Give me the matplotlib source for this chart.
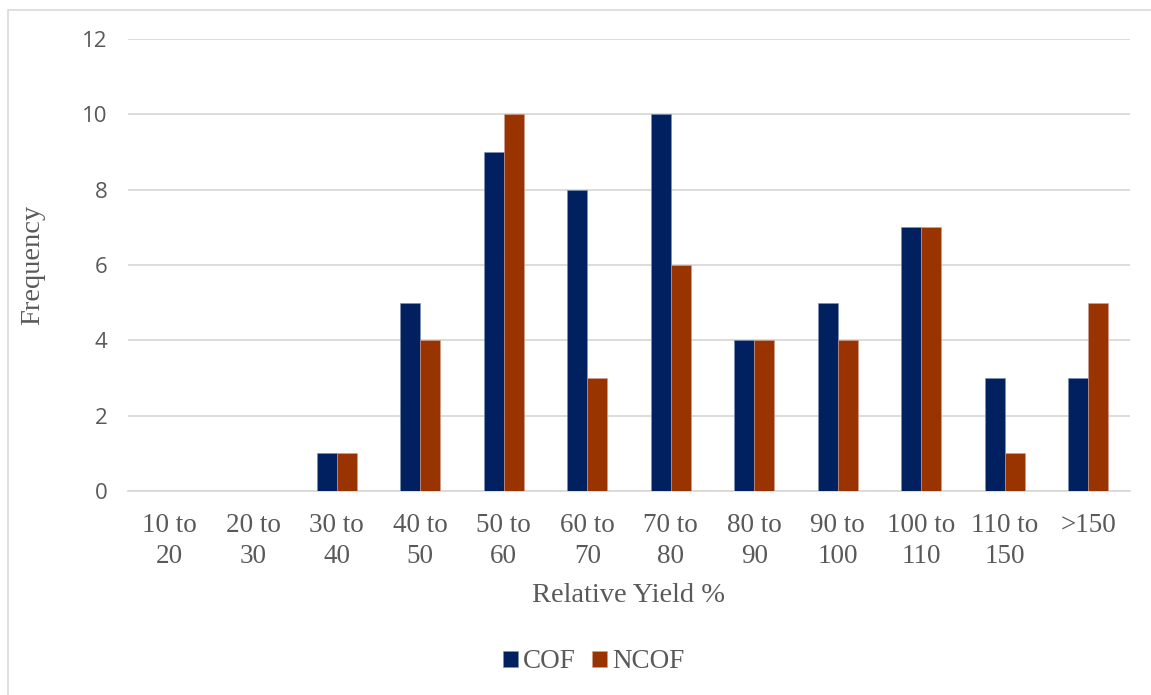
import numpy as np
import matplotlib
matplotlib.use("Agg")
import matplotlib.pyplot as plt
from matplotlib.patches import Rectangle

# data
bins = ["10 to\n20", "20 to\n30", "30 to\n40", "40 to\n50", "50 to\n60", "60 to\n70",
        "70 to\n80", "80 to\n90", "90 to\n100", "100 to\n110", "110 to\n150", ">150"]
cof = [0, 0, 1, 5, 9, 8, 10, 4, 5, 7, 3, 3]
ncof = [0, 0, 1, 4, 10, 3, 6, 4, 4, 7, 1, 5]

serif = ["Liberation Serif", "DejaVu Serif"]
sans = ["Open Sans", "Liberation Sans", "DejaVu Sans"]
grey = "#595959"

fig = plt.figure(figsize=(11.51, 6.95), dpi=100)
# light outer frame like the Excel chart area
fig.patches.append(Rectangle((8 / 1151, -0.01), 1.0, 1 - 10 / 695 + 0.01,
                             transform=fig.transFigure, fill=False,
                             edgecolor="#d9d9d9", linewidth=1.2))

ax = fig.add_axes([128 / 1151, 1 - 491 / 695, (1130 - 128) / 1151, (491 - 39) / 695])

x = np.arange(len(bins))
w = 0.24
ax.bar(x - w / 2, cof, w, color="#002060", edgecolor="#8090b0", linewidth=0.4, label="COF", zorder=3)
ax.bar(x + w / 2, ncof, w, color="#993300", edgecolor="#d0a090", linewidth=0.4, label="NCOF", zorder=3)

ax.set_xlim(-0.5, len(bins) - 0.5)
ax.set_ylim(0, 12)
ax.set_yticks(range(0, 13, 2))
ax.yaxis.grid(True, color="#d9d9d9", linewidth=1.3, zorder=0)
for s in ["top", "right", "left"]:
    ax.spines[s].set_visible(False)
ax.spines["bottom"].set_color("#d9d9d9")
ax.spines["bottom"].set_linewidth(1.3)
ax.tick_params(axis="both", length=0)
ax.tick_params(axis="y", pad=15)
ax.tick_params(axis="x", pad=16)

ax.set_xticks(x)
ax.set_xticklabels(bins, fontfamily=serif, fontsize=19.5, color=grey, linespacing=1.3)
for lab in ax.get_yticklabels():
    lab.set_fontfamily(sans)
    lab.set_fontsize(16)
    lab.set_color(grey)

ax.set_ylabel("Frequency", fontfamily=serif, fontsize=20.5, color=grey, labelpad=26)
ax.set_xlabel("Relative Yield %", fontfamily=serif, fontsize=20.5, color=grey, labelpad=10)

leg = fig.legend(loc="center", bbox_to_anchor=(594 / 1151, 1 - 662 / 695), ncol=2,
                 frameon=False, prop={"family": serif, "size": 19.5},
                 handlelength=0.55, handleheight=0.55, handletextpad=0.2, columnspacing=0.6)
for t in leg.get_texts():
    t.set_color(grey)

fig.savefig("out.png", dpi=100)
